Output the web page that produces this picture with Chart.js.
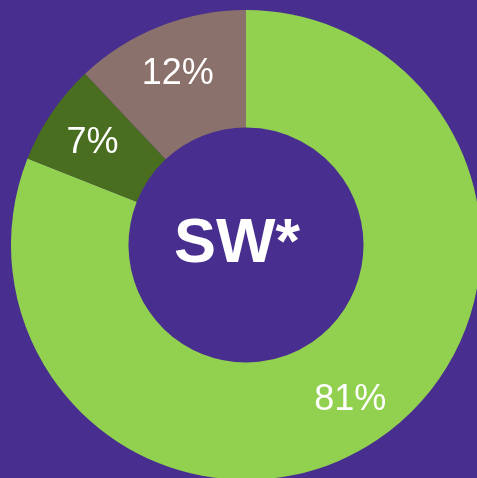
<!DOCTYPE html>
<html>
<head>
<meta charset="utf-8">
<script src="https://cdn.jsdelivr.net/npm/chart.js@4"></script>
<style>
  html, body { margin: 0; padding: 0; width: 477px; height: 478px; overflow: hidden; background: #482f8f; }
  #wrap { position: absolute; left: 11px; top: 10px; width: 470px; height: 470px; }
</style>
</head>
<body>
<div id="wrap"><canvas id="donutChart"></canvas></div>
<script>
const categories = ['Green', 'Dark green', 'Taupe'];
const shares = [81, 7, 12];
const sliceColors = ['#92d050', '#4a6e1f', '#8b716b'];
const centerLabel = 'SW*';

// percent labels sit a bit outside the middle of the ring, like the original
const sliceLabels = {
  id: 'sliceLabels',
  afterDatasetsDraw(chart) {
    const ctx = chart.ctx;
    const meta = chart.getDatasetMeta(0);
    ctx.save();
    ctx.fillStyle = '#ffffff';
    ctx.textAlign = 'center';
    ctx.textBaseline = 'middle';
    ctx.font = '36px "Liberation Sans", Arial, sans-serif';
    meta.data.forEach((arc, i) => {
      const { x, y, startAngle, endAngle, innerRadius, outerRadius } = arc.getProps(
        ['x', 'y', 'startAngle', 'endAngle', 'innerRadius', 'outerRadius'], true);
      const a = (startAngle + endAngle) / 2;
      const r = innerRadius + 0.58 * (outerRadius - innerRadius);
      ctx.fillText(shares[i] + '%', x + r * Math.cos(a), y + r * Math.sin(a) + 2);
    });
    const c = meta.data[0];
    ctx.font = 'bold 63px "Liberation Sans", Arial, sans-serif';
    ctx.fillText(centerLabel, c.x - 9, c.y);
    ctx.restore();
  }
};

const ctx = document.getElementById('donutChart').getContext('2d');
new Chart(ctx, {
  type: 'doughnut',
  data: {
    labels: categories,
    datasets: [{
      data: shares,
      backgroundColor: sliceColors,
      borderWidth: 0
    }]
  },
  options: {
    responsive: true,
    maintainAspectRatio: false,
    animation: false,
    cutout: '50%',
    layout: { padding: 0 },
    plugins: {
      legend: { display: false },
      tooltip: { enabled: false }
    }
  },
  plugins: [sliceLabels]
});
</script>
</body>
</html>
